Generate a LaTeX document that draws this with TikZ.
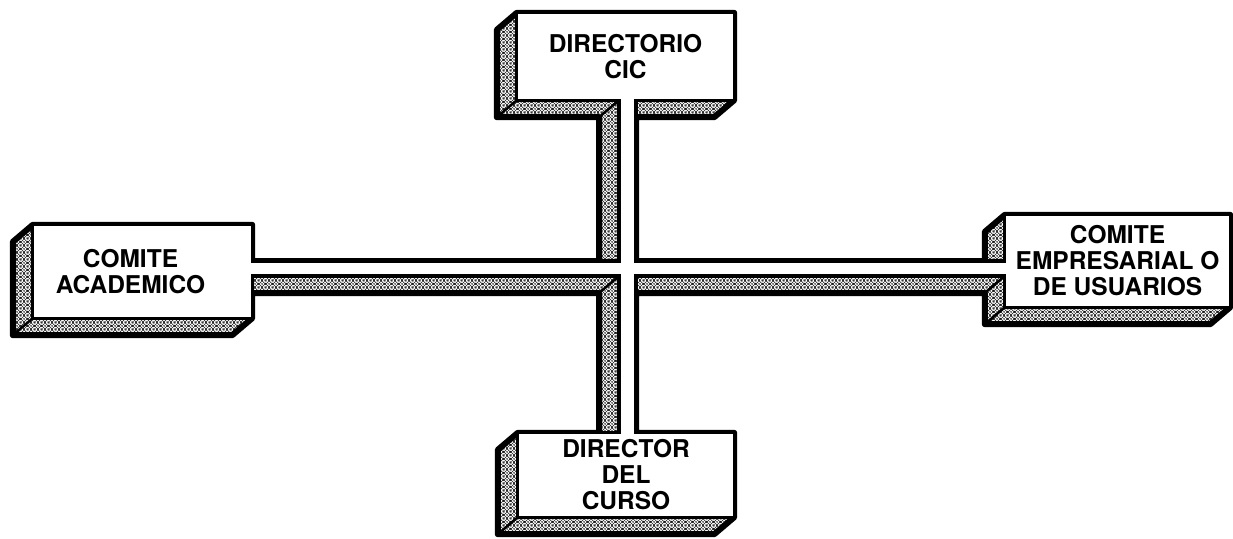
\documentclass[tikz,border=0pt]{standalone}
\usepackage{fontspec}
\setmainfont{TeX Gyre Heros}
\usetikzlibrary{patterns,backgrounds}

% white chain-link rings for the shaded side faces
\pgfdeclarepatternformonly{chainlink}{\pgfqpoint{0pt}{0pt}}{\pgfqpoint{7pt}{7pt}}{\pgfqpoint{7pt}{7pt}}{%
  \pgfsetlinewidth{1.2pt}
  \pgfpathcircle{\pgfqpoint{3.5pt}{3.5pt}}{2pt}
  \pgfpathcircle{\pgfqpoint{0pt}{0pt}}{2pt}
  \pgfpathcircle{\pgfqpoint{7pt}{0pt}}{2pt}
  \pgfpathcircle{\pgfqpoint{0pt}{7pt}}{2pt}
  \pgfpathcircle{\pgfqpoint{7pt}{7pt}}{2pt}
  \pgfusepath{stroke}}

\tikzset{
  box/.style={inner sep=0pt, align=center, font=\fontsize{24.5pt}{26pt}\selectfont\bfseries},
  recede/.style={shift={(-20,17)}},
  edge3d/.style={line width=2.5pt}
}

% front faces: the four boxes and the cross joining them
\newcommand{\frontoutline}{(cic.north west) -- (cic.north east) -- (cic.south east)
  -- (cic.south east -| ne) -- (ne) -- (ne -| empr.west) -- (empr.north west)
  -- (empr.north east) -- (empr.south east) -- (empr.south west) -- (se -| empr.west)
  -- (se) -- (se |- curso.north) -- (curso.north east) -- (curso.south east)
  -- (curso.south west) -- (curso.north west) -- (sw |- curso.north) -- (sw)
  -- (sw -| acad.east) -- (acad.south east) -- (acad.south west) -- (acad.north west)
  -- (acad.north east) -- (nw -| acad.east) -- (nw) -- (nw |- cic.south)
  -- (cic.south west) -- cycle}

% the same faces pushed back (side faces)
\newcommand{\sideoutline}{(cic.north west) -- (cic.north east) -- (cic.south east)
  -- ([recede]cic.south east) -- (cicb -| ne) -- (ne) -- (ne -| emprb) -- (emprb)
  -- (empr.north west) -- (empr.north east) -- (empr.south east)
  -- ([recede]empr.south east) -- ([recede]empr.south west) -- (emprb |- hb)
  -- (se |- hb) -- (se |- curso.north) -- (curso.north east) -- (curso.south east)
  -- ([recede]curso.south east) -- ([recede]curso.south west) -- ([recede]curso.north west)
  -- (curso.north west) -- (vb |- curso.north) -- (vb |- hb) -- (hb -| acad.east)
  -- (acad.south east) -- ([recede]acad.south east) -- ([recede]acad.south west)
  -- ([recede]acad.north west) -- (acad.north west) -- (acad.north east)
  -- (nw -| acad.east) -- (vb |- nw) -- (vb |- cicb) -- (cicb)
  -- ([recede]cic.north west) -- cycle}

\begin{document}
\begin{tikzpicture}[x=1pt,y=-1pt]
\useasboundingbox (0,0) rectangle (1233,538);

% boxes
\node[box, minimum width=217pt, minimum height=87pt] (cic) at (625.5,56.5) {DIRECTORIO\\CIC};
\node[box, minimum width=219pt, minimum height=93pt] (acad) at (142.5,271.5)
  {\hspace*{-24pt}COMITE\\\hspace*{-24pt}ACADEMICO};
\node[box, minimum width=225pt, minimum height=92pt] (empr) at (1117.5,261) {COMITE\\EMPRESARIAL O\\DE USUARIOS};
\node[box, minimum width=216pt, minimum height=84pt] (curso) at (626,475) {DIRECTOR\\DEL\\CURSO};

% corners of the crossing
\coordinate (nw) at (619,261);
\coordinate (ne) at (636,261);
\coordinate (se) at (636,276);
\coordinate (sw) at (619,276);
% pushed-back corners
\coordinate (cicb) at ([recede]cic.south west);
\coordinate (emprb) at ([recede]empr.north west);
\coordinate (hb) at ([recede]se);
\coordinate (vb) at ([recede]nw);

\begin{scope}[on background layer]
\fill[black] \sideoutline;
\fill[pattern=chainlink, pattern color=white] \sideoutline;
\draw[line width=6pt, line join=round] \sideoutline;
\draw[edge3d] (cic.south west) -- (cicb);
\draw[edge3d] (nw |- cic.south) -- (vb |- cicb);
\draw[edge3d] (sw) -- (vb |- hb);
\draw[edge3d] (acad.south west) -- ([recede]acad.south west);
\draw[edge3d] (curso.south west) -- ([recede]curso.south west);
\draw[edge3d] (empr.south west) -- ([recede]empr.south west);
\draw[edge3d] (se -| empr.west) -- (emprb |- hb);
\filldraw[fill=white, line width=3.2pt] \frontoutline;
\end{scope}
\end{tikzpicture}
\end{document}
